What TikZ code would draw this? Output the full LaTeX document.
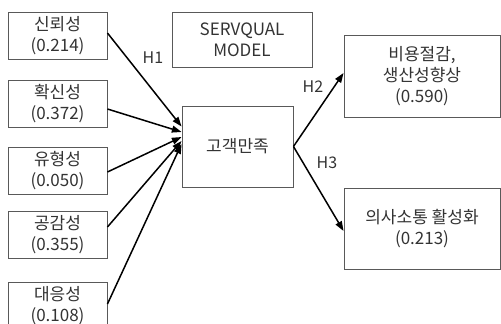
\documentclass[tikz,border=0pt]{standalone}
\usepackage{fontspec}
\setmainfont{Noto Sans CJK KR}
\usetikzlibrary{arrows.meta}
\tikzset{
  factbox/.style = {draw=black!65,line width=0.9pt,align=center,inner sep=0pt,text=black!80},
  patharr/.style = {-{Triangle[length=3.4mm,width=2.4mm]},line width=1.5pt},
  hlabel/.style  = {font=\fontsize{16}{18}\selectfont,text=black!80}
}

\begin{document}
\begin{tikzpicture}[x=1pt,y=-1pt,font=\fontsize{17}{21}\selectfont]
  \useasboundingbox (0,0) rectangle (501,324);
  \clip (0,0) rectangle (501,324);
  % SERVQUAL factors
  \node[factbox,minimum width=99pt,minimum height=47pt] (rel) at (57.5,35.5)  {신뢰성\\(0.214)};
  \node[factbox,minimum width=99pt,minimum height=47pt] (ass) at (57.5,103.5) {확신성\\(0.372)};
  \node[factbox,minimum width=99pt,minimum height=47pt] (tan) at (57.5,170.5) {유형성\\(0.050)};
  \node[factbox,minimum width=99pt,minimum height=47pt] (emp) at (57.5,235)   {공감성\\(0.355)};
  \node[factbox,minimum width=99pt,minimum height=47pt] (res) at (57.5,305.5) {대응성\\(0.108)};
  \node[factbox,minimum width=140pt,minimum height=55pt] (model) at (242,39.5) {SERVQUAL\\MODEL};
  \node[factbox,minimum width=111pt,minimum height=81pt] (sat) at (237.5,146.5) {고객만족};
  \node[factbox,minimum width=156pt,minimum height=82pt] (cost) at (422,76) {비용절감,\\생산성향상\\(0.590)};
  \node[factbox,minimum width=156pt,minimum height=81pt] (comm) at (422,228.5) {의사소통 활성화\\(0.213)};
  % hypotheses
  \draw[patharr] ([yshift=2.5pt]rel.east) -- ([yshift=20pt]sat.west);
  \draw[patharr] ([yshift=-5.5pt]ass.east) -- ([yshift=14.5pt]sat.west);
  \draw[patharr] ([yshift=-1.5pt]tan.east) -- ([yshift=9.5pt]sat.west);
  \draw[patharr] ([yshift=8pt]emp.east) -- ([yshift=5.5pt]sat.west);
  \draw[patharr] ([yshift=1.5pt]res.east) -- ([yshift=2.5pt]sat.west);
  \draw[patharr] (sat.east) -- ([yshift=3pt]cost.west);
  \draw[patharr] (sat.east) -- ([yshift=-2.5pt]comm.west);
  \node[hlabel] (h1) at (153,58) {H1};
  \node[hlabel] (h2) at (313,87) {H2};
  \node[hlabel] (h3) at (327,163) {H3};
\end{tikzpicture}
\end{document}
